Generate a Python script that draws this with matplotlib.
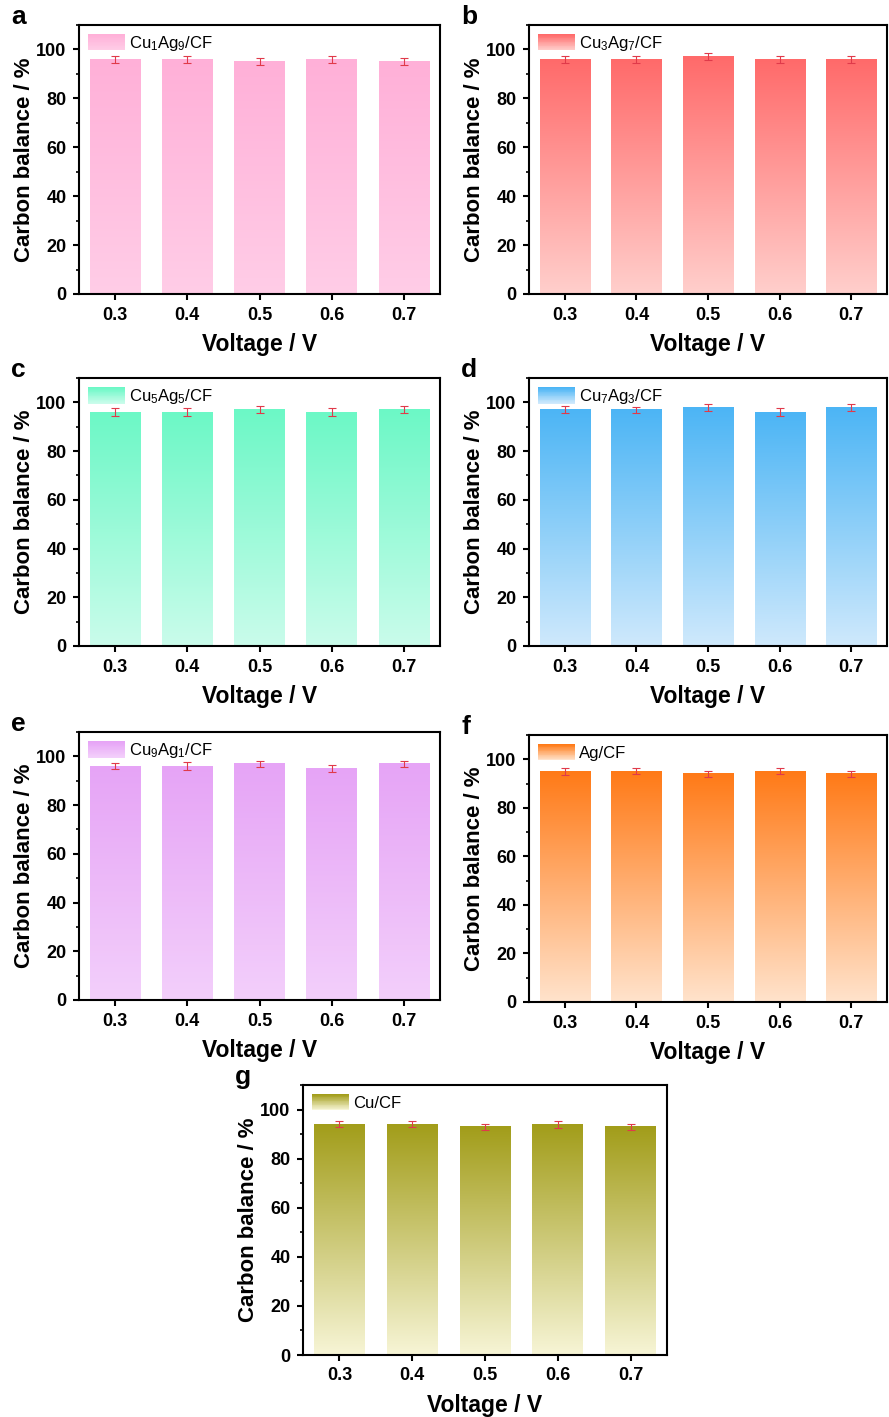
import numpy as np
import matplotlib
matplotlib.use("Agg")
import matplotlib.pyplot as plt
from matplotlib.colors import LinearSegmentedColormap
from matplotlib.legend_handler import HandlerBase
from matplotlib.patches import Rectangle
from matplotlib.ticker import MultipleLocator

plt.rcParams['font.family'] = ['Liberation Sans', 'DejaVu Sans']
plt.rcParams['mathtext.fontset'] = 'custom'
plt.rcParams['mathtext.rm'] = 'Liberation Sans'
plt.rcParams['mathtext.it'] = 'Liberation Sans'

voltages = [0.3, 0.4, 0.5, 0.6, 0.7]
x_ticks = ["0.3", "0.4", "0.5", "0.6", "0.7"]

panel_letters = ["a", "b", "c", "d", "e", "f", "g"]
labels = [r"Cu$_1$Ag$_9$/CF", r"Cu$_3$Ag$_7$/CF", r"Cu$_5$Ag$_5$/CF",
          r"Cu$_7$Ag$_3$/CF", r"Cu$_9$Ag$_1$/CF", "Ag/CF", "Cu/CF"]

# carbon balance (%)
balance = [
    [96, 96, 95, 96, 95],
    [96, 96, 97, 96, 96],
    [96, 96, 97, 96, 97],
    [97, 97, 98, 96, 98],
    [96, 96, 97, 95, 97],
    [95, 95, 94, 95, 94],
    [94, 94, 93, 94, 93],
]
errors = [
    [1.5, 1.5, 1.5, 1.5, 1.5],
    [1.5, 1.5, 1.5, 1.5, 1.5],
    [1.5, 1.5, 1.5, 1.5, 1.5],
    [1.5, 1.2, 1.5, 1.5, 1.5],
    [1.3, 1.5, 1.2, 1.5, 1.3],
    [1.3, 1.2, 1.2, 1.2, 1.2],
    [1.3, 1.3, 1.3, 1.5, 1.2],
]

# (top colour, bottom colour) of each gradient fill
colors = [
    ("#FFB0D8", "#FFCDE7"),
    ("#FF6A6A", "#FFCFCC"),
    ("#6CF8C6", "#CAFCEB"),
    ("#4CB5F5", "#CFE9FC"),
    ("#E6A4F6", "#F3CFFB"),
    ("#FF7A17", "#FFE3CC"),
    ("#A29D1A", "#F7F5D6"),
]

# axes rectangles in pixels: left, top, right, bottom
W, H = 889, 1417
boxes = [
    (79, 25, 440, 294),
    (529, 25, 887, 294),
    (79, 378, 440, 646),
    (529, 378, 887, 646),
    (79, 732, 440, 1000),
    (529, 735, 887, 1002),
    (303, 1085, 667, 1355),
]


class GradientHandler(HandlerBase):
    def __init__(self, top, bottom):
        super().__init__()
        self.cmap = LinearSegmentedColormap.from_list("g", [bottom, top])

    def create_artists(self, legend, orig_handle, xdescent, ydescent,
                       width, height, fontsize, trans):
        n = 20
        arts = []
        for i in range(n):
            r = Rectangle((-xdescent, -ydescent + height * i / n), width,
                          height / n + 0.3, facecolor=self.cmap(i / (n - 1)),
                          edgecolor="none", transform=trans)
            arts.append(r)
        return arts


fig = plt.figure(figsize=(W / 100, H / 100), dpi=100)

for k in range(7):
    l, t, r, b = boxes[k]
    ax = fig.add_axes([l / W, 1 - b / H, (r - l) / W, (b - t) / H])
    top, bottom = colors[k]
    cmap = LinearSegmentedColormap.from_list("g%d" % k, [bottom, top])
    grad = np.linspace(0, 1, 256).reshape(-1, 1)
    w = 0.07
    for xv, yv in zip(voltages, balance[k]):
        ax.imshow(grad, cmap=cmap, origin="lower", aspect="auto",
                  extent=(xv - w / 2, xv + w / 2, 0, yv), zorder=1)
    ax.errorbar(voltages, balance[k], yerr=errors[k], fmt="none",
                ecolor="#E03A4A", elinewidth=0.8, capsize=3, capthick=0.8, zorder=3)
    ax.set_xlim(0.25, 0.75)
    ax.set_ylim(0, 110)
    ax.set_xticks(voltages)
    ax.set_xticklabels(x_ticks)
    ax.set_yticks([0, 20, 40, 60, 80, 100])
    ax.yaxis.set_minor_locator(MultipleLocator(10))
    ax.tick_params(axis="both", which="major", direction="out", length=4,
                   width=1.5, labelsize=13, pad=5)
    ax.tick_params(axis="y", which="minor", direction="out", length=2.5, width=1.2)
    for lab in ax.get_xticklabels() + ax.get_yticklabels():
        lab.set_fontweight("bold")
    for s in ax.spines.values():
        s.set_linewidth(1.5)
    ax.set_xlabel("Voltage / V", fontsize=16.5, fontweight="bold", labelpad=7)
    ax.set_ylabel("Carbon balance / %", fontsize=16, fontweight="bold", labelpad=1)

    handle = Rectangle((0, 0), 1, 1)
    ax.legend([handle], [labels[k]], loc="upper left", frameon=False,
              fontsize=12, handlelength=2.2, handleheight=1.1,
              handletextpad=0.25, borderaxespad=0.15,
              handler_map={Rectangle: GradientHandler(top, bottom)})

    fig.text((l - 68) / W, 1 - (t - 8) / H, panel_letters[k], fontsize=19,
             fontweight="bold", ha="left", va="center")

fig.savefig("out.png", dpi=100)
